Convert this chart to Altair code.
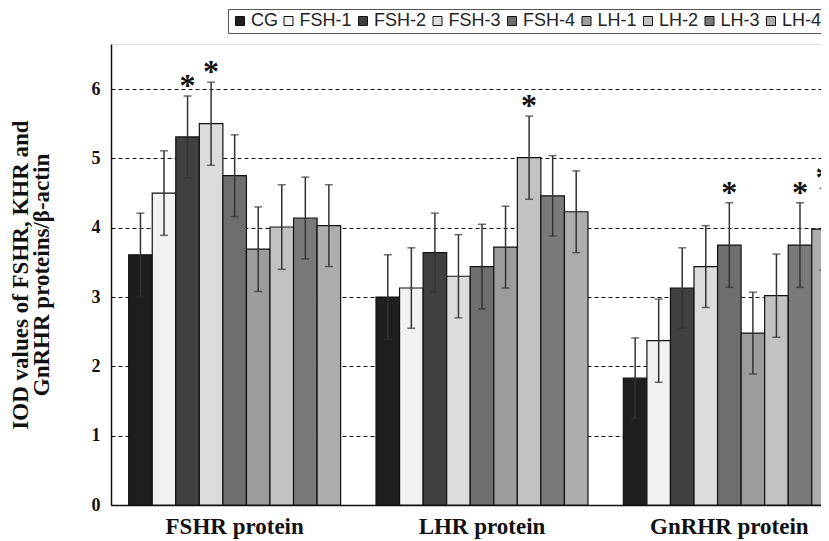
import altair as alt
import pandas as pd

groups = ["FSHR protein", "LHR protein", "GnRHR protein"]
series = ["CG", "FSH-1", "FSH-2", "FSH-3", "FSH-4", "LH-1", "LH-2", "LH-3", "LH-4"]

fshr_mean = [3.61, 4.50, 5.31, 5.50, 4.75, 3.69, 4.01, 4.14, 4.03]
fshr_err = [0.60, 0.61, 0.59, 0.60, 0.59, 0.61, 0.61, 0.59, 0.59]
fshr_star = [0, 0, 1, 1, 0, 0, 0, 0, 0]

lhr_mean = [3.00, 3.13, 3.64, 3.30, 3.44, 3.72, 5.01, 4.46, 4.23]
lhr_err = [0.61, 0.58, 0.57, 0.60, 0.61, 0.59, 0.60, 0.58, 0.59]
lhr_star = [0, 0, 0, 0, 0, 0, 1, 0, 0]

gnrhr_mean = [1.83, 2.37, 3.13, 3.44, 3.75, 2.48, 3.02, 3.75, 3.98]
gnrhr_err = [0.58, 0.60, 0.58, 0.59, 0.61, 0.59, 0.60, 0.61, 0.59]
gnrhr_star = [0, 0, 0, 0, 1, 0, 0, 1, 1]

fills = ["#1e1e1e", "#f2f2f2", "#404040", "#dcdcdc", "#6e6e6e",
         "#9c9c9c", "#c2c2c2", "#7a7a7a", "#adadad"]

rows = []
for g, means, errs, stars in zip(groups,
                                 [fshr_mean, lhr_mean, gnrhr_mean],
                                 [fshr_err, lhr_err, gnrhr_err],
                                 [fshr_star, lhr_star, gnrhr_star]):
    for s, m, e, st in zip(series, means, errs, stars):
        rows.append(dict(group=g, series=s, mean=m, low=m - e, high=m + e,
                         star="*" if st else ""))
df = pd.DataFrame(rows)

serif = "Liberation Serif"
sans = "Liberation Sans"

x_enc = alt.X("group:N", sort=groups,
              scale=alt.Scale(range=[0, 742], paddingInner=0.143, paddingOuter=0.0715),
              axis=alt.Axis(title=None, labelAngle=0, labelFont=serif, labelFontWeight="bold",
                            labelFontSize=23, labelColor="#111", labelPadding=10,
                            ticks=False, domainColor="#111", domainWidth=1.5))
xo_enc = alt.XOffset("series:N", sort=series, scale=alt.Scale(paddingInner=0, paddingOuter=0))
y_scale = alt.Scale(domain=[0, 6.65], nice=False)

bars = alt.Chart().mark_bar(stroke="#111", strokeWidth=1.2, clip=True).encode(
    x=x_enc,
    xOffset=xo_enc,
    y=alt.Y("mean:Q", scale=y_scale,
            axis=alt.Axis(values=[0, 1, 2, 3, 4, 5, 6], format="d", grid=True, gridDash=[4, 3],
                          gridColor="#111", gridWidth=1, ticks=False,
                          domainColor="#111", domainWidth=1.5,
                          labelFont=serif, labelFontWeight="bold", labelFontSize=18,
                          labelColor="#111", labelPadding=11,
                          title=["IOD values of FSHR, KHR and", "GnRHR proteins/β-actin"],
                          titleFont=serif, titleFontWeight="bold", titleFontSize=23,
                          titleColor="#111", titleLineHeight=21, titleX=-79)),
    fill=alt.Fill("series:N", sort=series,
                  scale=alt.Scale(domain=series, range=fills),
                  legend=alt.Legend(title=None, orient="none", legendX=117, legendY=-35,
                                    direction="horizontal", symbolType="square",
                                    symbolSize=81, symbolStrokeColor="#111",
                                    symbolStrokeWidth=1, labelFont=sans, labelFontSize=18,
                                    labelColor="#222", labelOffset=2, columnPadding=1.5,
                                    padding=3, strokeColor="#555")),
)

rules = alt.Chart().mark_rule(color="#333", strokeWidth=1.5, clip=True).encode(
    x=x_enc, xOffset=xo_enc, y=alt.Y("low:Q", scale=y_scale), y2="high:Q")

cap_hi = alt.Chart().mark_tick(color="#333", thickness=1.5, size=8, clip=True).encode(
    x=x_enc, xOffset=xo_enc, y=alt.Y("high:Q", scale=y_scale))
cap_lo = alt.Chart().mark_tick(color="#333", thickness=1.5, size=8, clip=True).encode(
    x=x_enc, xOffset=xo_enc, y=alt.Y("low:Q", scale=y_scale))

stars = alt.Chart().transform_filter(alt.datum.star != "").mark_text(
    font=serif, fontSize=32, fontWeight="bold", baseline="alphabetic", dy=0,
    color="#111", clip=True
).encode(x=x_enc, xOffset=xo_enc, y=alt.Y("high:Q", scale=y_scale), text="star:N")

chart = alt.layer(bars, rules, cap_hi, cap_lo, stars, data=df).properties(
    width=710, height=461,
    autosize=alt.AutoSizeParams(type="none"),
    padding={"left": 103, "top": 36, "right": 0, "bottom": 35},
).configure_view(stroke=None).configure(background="white")

chart.save("out.html", embed_options={"renderer": "svg", "actions": False})
